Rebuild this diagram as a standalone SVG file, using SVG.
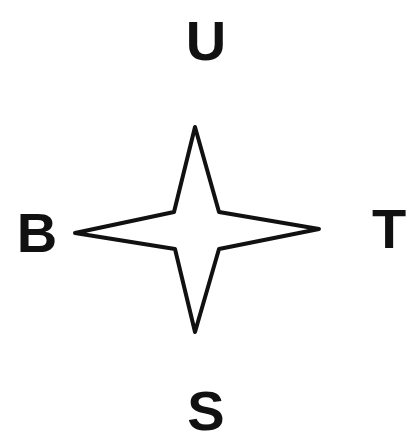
<svg xmlns="http://www.w3.org/2000/svg" width="410" height="441" viewBox="0 0 410 441">
<style>
.lbl{font-family:"Liberation Sans",Arial,sans-serif;font-weight:bold;font-size:56px;fill:#111;text-anchor:middle}
.star{fill:#fff;stroke:#111;stroke-width:4;stroke-linejoin:round}
</style>
<rect width="410" height="441" fill="#fff"/>
<g id="star"><path class="star" d="M195,127 L219,212 L319,229 L219,249 L195,332 L175,249 L75,233 L174,212 Z"/></g>
<g id="U"><text class="lbl" x="206" y="60">U</text></g>
<g id="S"><text class="lbl" x="206" y="430">S</text></g>
<g id="B"><text class="lbl" x="37" y="252">B</text></g>
<g id="T"><text class="lbl" x="389" y="248">T</text></g>
<g id="connectors"></g>
</svg>
